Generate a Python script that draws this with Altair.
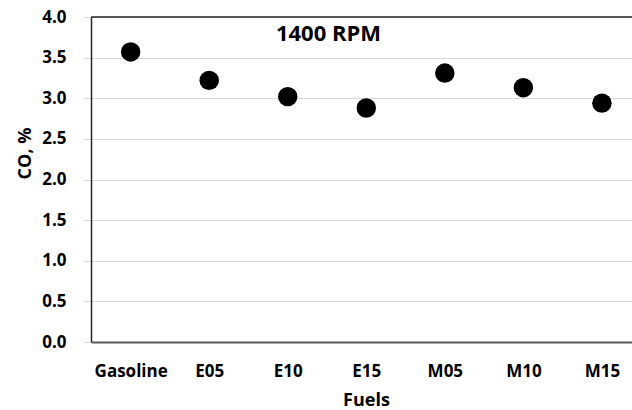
import altair as alt
import pandas as pd

fuels = ["Gasoline", "E05", "E10", "E15", "M05", "M10", "M15"]
co_values = [3.57, 3.22, 3.02, 2.88, 3.31, 3.13, 2.94]
y_ticks = [0.0, 0.5, 1.0, 1.5, 2.0, 2.5, 3.0, 3.5, 4.0]

df = pd.DataFrame({"Fuel": fuels, "CO": co_values, "idx": list(range(len(fuels)))})
FONT = "Open Sans"
label_expr = "[" + ",".join("'" + f + "'" for f in fuels) + "][datum.value]"

points = alt.Chart(df).mark_circle(size=380, color="black", opacity=1).encode(
    x=alt.X(
        "idx:Q",
        scale=alt.Scale(domain=[-0.505, 6.383], nice=False, zero=False),
        axis=alt.Axis(
            title="Fuels",
            values=list(range(len(fuels))),
            labelExpr=label_expr,
            ticks=False,
            grid=False,
            labelAngle=0,
            labelFont=FONT,
            labelFontSize=17,
            labelFontWeight="bold",
            labelColor="black",
            labelBaseline="alphabetic",
            labelPadding=34,
            labelFlush=False,
            labelOverlap=False,
            domainColor="#595959",
            domainWidth=2,
            titleFont=FONT,
            titleFontSize=18,
            titleFontWeight="bold",
            titleColor="black",
            titleX=275,
            titleY=63,
            titleAlign="center",
            titleBaseline="alphabetic",
        ),
    ),
    y=alt.Y(
        "CO:Q",
        scale=alt.Scale(domain=[0, 4], nice=False, zero=True),
        axis=alt.Axis(
            title="CO, %",
            values=y_ticks,
            format=".1f",
            grid=True,
            gridColor="#d9d9d9",
            gridWidth=1,
            tickSize=8,
            tickColor="#d9d9d9",
            labelPadding=17,
            labelFont=FONT,
            labelFontSize=17,
            labelFontWeight="bold",
            labelColor="black",
            domainColor="#262626",
            domainWidth=1.5,
            titleFont=FONT,
            titleFontSize=18,
            titleFontWeight="bold",
            titleColor="black",
            titleX=-61,
            titleY=136,
            titleAlign="center",
            titleBaseline="alphabetic",
        ),
    ),
)

top_border = alt.Chart(pd.DataFrame({"top": [4.0]})).mark_rule(
    color="#262626", strokeWidth=1.5
).encode(y="top:Q")

chart = alt.layer(top_border, points).properties(
    width=541,
    height=325,
    title=alt.TitleParams(
        text="1400 RPM",
        font=FONT,
        fontSize=22,
        fontWeight="bold",
        color="black",
        anchor="middle",
        frame="group",
        dx=-33,
        dy=28,
        offset=-27,
        baseline="alphabetic",
    ),
    autosize=alt.AutoSizeParams(type="none"),
    padding={"left": 91, "top": 17, "right": 0, "bottom": 68},
).configure_view(stroke=None).configure(background="white")

chart.save("out.html", embed_options={"renderer": "svg", "actions": False})
